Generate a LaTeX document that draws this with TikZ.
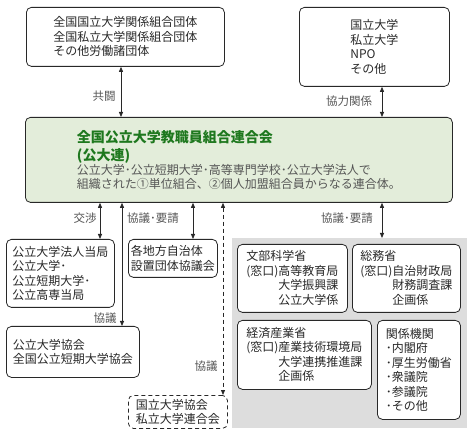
\documentclass[tikz,border=0pt]{standalone}
\usepackage{fontspec}
\setmainfont{Noto Sans CJK JP}
\usetikzlibrary{arrows.meta}
\definecolor{boxline}{RGB}{40,40,40}
\definecolor{txt}{RGB}{40,40,40}
\definecolor{lbl}{RGB}{85,85,85}
\definecolor{titlegreen}{RGB}{30,120,30}
\definecolor{mainfill}{RGB}{227,237,218}
\definecolor{govfill}{RGB}{221,221,221}
\newcommand\fsbox{\fontsize{12pt}{14.5pt}\selectfont}
\newcommand\fstitle{\fontsize{14pt}{14.5pt}\selectfont\bfseries}
\newcommand\fslbl{\fontsize{11.5pt}{14pt}\selectfont}
\newcommand\ind{\phantom{(窓口)}}
\begin{document}
\begin{tikzpicture}[x=1pt,y=-1pt,
  box/.style={draw=boxline, line width=0.8pt, rounded corners=5pt, fill=white,
    align=left, inner sep=0pt, anchor=north west, text=txt, font=\fsbox},
  dbox/.style={box, dash pattern=on 4pt off 3pt},
  lab/.style={text=lbl, font=\fslbl, inner sep=0pt},
  dbl/.style={line width=0.8pt, draw=boxline, {Triangle[length=5pt,width=4pt]}-{Triangle[length=5pt,width=4pt]}},
  dbld/.style={dbl, dash pattern=on 4pt off 3pt}]
\useasboundingbox (0,0) rectangle (471,435);

% grey government area
\node[fill=govfill, inner sep=0pt, anchor=north west, minimum width=235pt, minimum height=190pt] (gov) at (232,238) {};

% top boxes
\node[box, minimum width=198pt, minimum height=59pt] (top1) at (26,7)
  {全国国立大学関係組合団体\\全国私立大学関係組合団体\\その他労働諸団体};
\node[box, minimum width=150pt, minimum height=79pt] (top2) at (299,7)
  {国立大学\\私立大学\\NPO\\その他};

% main box
\node[box, fill=mainfill, minimum width=427pt, minimum height=85pt] (main) at (25,117)
  {{\fstitle\color{titlegreen}全国公立大学教職員組合連合会}\\[3.5pt]
   {\fstitle\color{titlegreen}(公大連)}\\[-0.5pt]
   {\color{lbl}公立大学･公立短期大学･高等専門学校･公立大学法人で}\\
   {\color{lbl}組織された①単位組合、②個人加盟組合員からなる連合体。}};

% lower left boxes
\node[box, minimum width=108pt, minimum height=68pt] (hojin) at (6,239)
  {公立大学法人当局\\公立大学･\\公立短期大学･\\公立高専当局};
\node[box, minimum width=89pt, minimum height=38pt] (jichi) at (128,239)
  {各地方自治体\\設置団体協議会};
\node[box, minimum width=133pt, minimum height=51pt] (kyokai) at (6,326)
  {公立大学協会\\全国公立短期大学協会};
\node[dbox, minimum width=99pt, minimum height=33pt] (kokuritsu) at (128,395)
  {国立大学協会\\私立大学連合会};

% government boxes
\node[box, minimum width=110pt, minimum height=68pt] (monka) at (237,244)
  {文部科学省\\(窓口)高等教育局\\\ind 大学振興課\\\ind 公立大学係};
\node[box, minimum width=108pt, minimum height=68pt] (somu) at (352,244)
  {総務省\\(窓口)自治財政局\\\ind 財務調査課\\\ind 企画係};
\node[box, minimum width=134pt, minimum height=69pt] (keisan) at (237,320)
  {経済産業省\\(窓口)産業技術環境局\\\ind 大学連携推進課\\\ind 企画係};
\node[box, minimum width=83pt, minimum height=99pt] (kankei) at (377,320)
  {関係機関\\･内閣府\\･厚生労働省\\･衆議院\\･参議院\\･その他};

% connector x positions
\coordinate (xa) at (121,0);
\coordinate (xb) at (382,0);
\coordinate (x1) at (100,0);
\coordinate (x2) at (122,0);
\coordinate (x3) at (193,0);
\coordinate (x4) at (223,0);
\coordinate (x5) at (382,0);

\draw[dbl] (xa |- top1.south) -- (xa |- main.north);
\draw[dbl] (xb |- top2.south) -- (xb |- main.north);
\draw[dbl] (x1 |- main.south) -- (x1 |- hojin.north);
\draw[dbl] (x2 |- main.south) -- (x2 |- kyokai.north);
\draw[dbl] (x3 |- main.south) -- (x3 |- jichi.north);
\draw[dbld] (x4 |- main.south) -- (x4 |- kokuritsu.north);
\draw[dbl] (x5 |- main.south) -- (x5 |- gov.north);

% labels
\node[lab] (l1) at (104,96) {共闘};
\node[lab] (l2) at (349,101) {協力関係};
\node[lab] (l3) at (85,218) {交渉};
\node[lab] (l4) at (153,218) {協議･要請};
\node[lab] (l5) at (347,218) {協議･要請};
\node[lab] (l6) at (105,318) {協議};
\node[lab] (l7) at (206,366) {協議};
\end{tikzpicture}
\end{document}
